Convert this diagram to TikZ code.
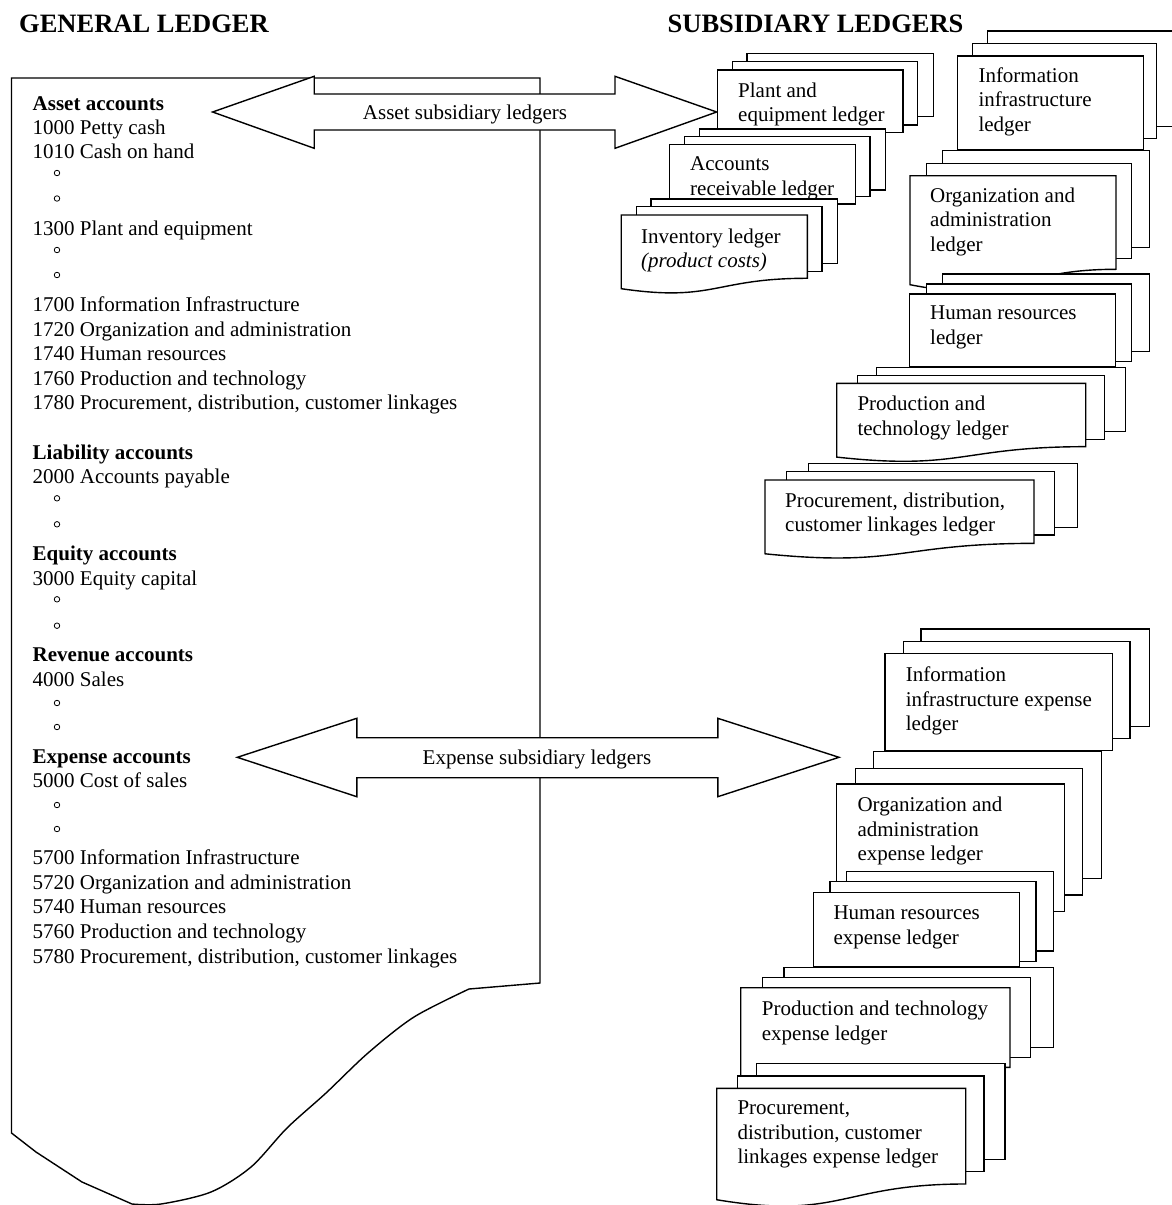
\documentclass[tikz,border=0pt]{standalone}
\usepackage{fontspec}
\setmainfont{Liberation Serif}
\tikzset{
  ln/.style={line width=1.4pt, line join=miter},
  body/.style={font=\fontsize{21}{24.5}\selectfont, inner sep=0pt, anchor=base west},
  ltxt/.style={font=\fontsize{21}{24.5}\selectfont, align=left, inner sep=0pt, anchor=north west},
  ttl/.style={font=\bfseries\fontsize{26.5}{30}\selectfont, inner sep=0pt, anchor=base west},
  circ/.style={circle, draw, line width=0.8pt, inner sep=0pt, minimum size=5.5pt},
  alabel/.style={font=\fontsize{21}{24.5}\selectfont, inner sep=0pt, anchor=base}
}
\newcommand\lrect[4]{\draw[ln,fill=white] (#1,#2) rectangle (#3,#4);}
\newcommand\ldoc[4]{\draw[ln,fill=white] (#1,#2) -- (#3,#2) -- (#3,{#2+0.802*#4})
  .. controls ({(#1+#3)/2},{#2+0.802*#4}) and ({(#1+#3)/2},{#2+1.107*#4}) .. (#1,{#2+0.934*#4}) -- cycle;}
\begin{document}
\begin{tikzpicture}[x=1pt,y=-1pt]
\useasboundingbox (0,0) rectangle (1172,1205);
\clip (0,0) rectangle (1172,1205);
\fill[white] (0,0) rectangle (1172,1205);

% titles
\node[ttl] (gltitle) at (19,32) {GENERAL LEDGER};
\node[ttl] (sltitle) at (667.5,32) {SUBSIDIARY LEDGERS};

% general ledger sheet
\draw[ln,fill=white] (540,983) -- (540,78) -- (11.5,78) -- (11.5,1133) -- (36,1152) -- (82,1182) -- (132,1204)
  -- plot[smooth, tension=0.5] coordinates {(132,1204) (161,1204) (211,1192) (251,1167) (287,1128) (326,1093) (368,1053) (414,1017) (469,989)}
  -- (540,983) -- cycle;

% left column
\node[body] (a0) at (32.5,110) {\textbf{Asset accounts}};
\node[body] (a1) at (32.5,134) {1000 Petty cash};
\node[body] (a2) at (32.5,158) {1010 Cash on hand};
\node[circ] (ac1) at (57,173) {};
\node[circ] (ac2) at (57,198.5) {};
\node[body] (a3) at (32.5,235.3) {1300 Plant and equipment};
\node[circ] (ac3) at (57,250) {};
\node[circ] (ac4) at (57,275) {};
\node[body] (a4) at (32.5,311) {1700 Information Infrastructure};
\node[body] (a5) at (32.5,336.3) {1720 Organization and administration};
\node[body] (a6) at (32.5,360.3) {1740 Human resources};
\node[body] (a7) at (32.5,385.3) {1760 Production and technology};
\node[body] (a8) at (32.5,409.7) {1780 Procurement, distribution, customer linkages};
\node[body] (l0) at (32.5,459.7) {\textbf{Liability accounts}};
\node[body] (l1) at (32.5,483.7) {2000 Accounts payable};
\node[circ] (lc1) at (57,498.3) {};
\node[circ] (lc2) at (57,524.3) {};
\node[body] (e0) at (32.5,560.3) {\textbf{Equity accounts}};
\node[body] (e1) at (32.5,585.3) {3000 Equity capital};
\node[circ] (ec1) at (57,599.3) {};
\node[circ] (ec2) at (57,625.7) {};
\node[body] (r0) at (32.5,661) {\textbf{Revenue accounts}};
\node[body] (r1) at (32.5,686) {4000 Sales};
\node[circ] (rc1) at (57,703) {};
\node[circ] (rc2) at (57,727) {};
\node[body] (x0) at (32.5,763) {\textbf{Expense accounts}};
\node[body] (x1) at (32.5,787) {5000 Cost of sales};
\node[circ] (xc1) at (57,805) {};
\node[circ] (xc2) at (57,829) {};
\node[body] (x2) at (32.5,864) {5700 Information Infrastructure};
\node[body] (x3) at (32.5,889) {5720 Organization and administration};
\node[body] (x4) at (32.5,913.7) {5740 Human resources};
\node[body] (x5) at (32.5,938.7) {5760 Production and technology};
\node[body] (x6) at (32.5,963.7) {5780 Procurement, distribution, customer linkages};

% block arrows
\draw[ln,fill=white] (212.6,112) -- (314.2,76.3) -- (314.2,94) -- (615,94) -- (615,76.3) -- (716.7,112)
  -- (615,148.3) -- (615,130) -- (314.2,130) -- (314.2,148.3) -- cycle;
\node[alabel] (assetlbl) at (465,119.5) {Asset subsidiary ledgers};
\draw[ln,fill=white] (237.3,757.3) -- (356.8,718.3) -- (356.8,737.7) -- (717.8,737.7) -- (717.8,718.3) -- (839,757.3)
  -- (717.8,796.7) -- (717.8,777.7) -- (356.8,777.7) -- (356.8,796.7) -- cycle;
\node[alabel] (explbl) at (537,764.5) {Expense subsidiary ledgers};

% asset subsidiary ledgers
\lrect{747}{53.3}{933.2}{116.7}
\lrect{732.5}{61.7}{917.5}{125}
\lrect{717.5}{70}{903}{132.7}
\node[ltxt] (plant) at (738,82.5) {Plant and\\equipment ledger};
\lrect{699.3}{129}{885.4}{190}
\lrect{684.7}{136.7}{870}{196.7}
\lrect{669.3}{144.3}{855.5}{204}
\node[ltxt] (ar) at (690,156.8) {Accounts\\receivable ledger};
\lrect{651}{199}{837.2}{263.3}
\lrect{636.5}{206.7}{822}{271.7}
\ldoc{621.2}{215}{807.3}{78.9}
\node[ltxt] (inv) at (641,228.5) {Inventory ledger\\\textit{(product costs)}};

\lrect{987.3}{31}{1185}{126.7}
\lrect{972.7}{43.3}{1156.7}{138.3}
\lrect{957.7}{56}{1143.3}{150}
\node[ltxt] (info) at (978.3,67.5) {Information\\infrastructure\\ledger};
\lrect{942.3}{150.7}{1149.3}{247.3}
\lrect{926.7}{163.3}{1131.7}{258.3}
\ldoc{910}{175.7}{1116}{116.7}
\node[ltxt] (org) at (930,187.5) {Organization and\\administration\\ledger};
\lrect{942.3}{274}{1149.3}{351.7}
\lrect{926.7}{284}{1131.7}{361.7}
\lrect{909.3}{294}{1115.7}{366.7}
\node[ltxt] (hr) at (930,305.8) {Human resources\\ledger};
\lrect{876.7}{367.3}{1125.7}{431.5}
\lrect{857.3}{375.7}{1104.3}{439.3}
\ldoc{836.7}{383.3}{1085.7}{79}
\node[ltxt] (prod) at (857.3,395.8) {Production and\\technology ledger};
\lrect{808.3}{463.3}{1077.3}{527.3}
\lrect{786.7}{471.7}{1054.3}{535}
\ldoc{765}{480}{1034}{79}
\node[ltxt] (proc) at (785,492.5) {Procurement, distribution,\\customer linkages ledger};

% expense subsidiary ledgers
\lrect{921}{629}{1149.3}{726.7}
\lrect{903.3}{641.7}{1130}{738.3}
\lrect{885}{653.3}{1112.7}{750.7}
\node[ltxt] (infox) at (905.7,666.8) {Information\\infrastructure expense\\ledger};
\lrect{873.3}{751.7}{1101.7}{878.3}
\lrect{855.7}{768.3}{1082.3}{895}
\lrect{836.7}{784}{1064.3}{911.7}
\node[ltxt] (orgx) at (857.3,796.8) {Organization and\\administration\\expense ledger};
\lrect{846.7}{871.7}{1053.3}{951}
\lrect{830}{881.7}{1036}{961.7}
\lrect{813.3}{892.7}{1019.3}{966.7}
\node[ltxt] (hrx) at (833.3,905.8) {Human resources\\expense ledger};
\lrect{784}{967.3}{1053.3}{1047.3}
\lrect{762.7}{977.7}{1030.7}{1057.7}
\ldoc{740.7}{987.7}{1010}{99.3}
\node[ltxt] (prodx) at (761.7,1000.8) {Production and technology\\expense ledger};
\lrect{756.7}{1063.3}{1005}{1159.3}
\lrect{737.3}{1076}{984}{1171.7}
\ldoc{716.7}{1088.3}{965.7}{119.3}
\node[ltxt] (procx) at (737.3,1100.8) {Procurement,\\distribution, customer\\linkages expense ledger};
\end{tikzpicture}
\end{document}
